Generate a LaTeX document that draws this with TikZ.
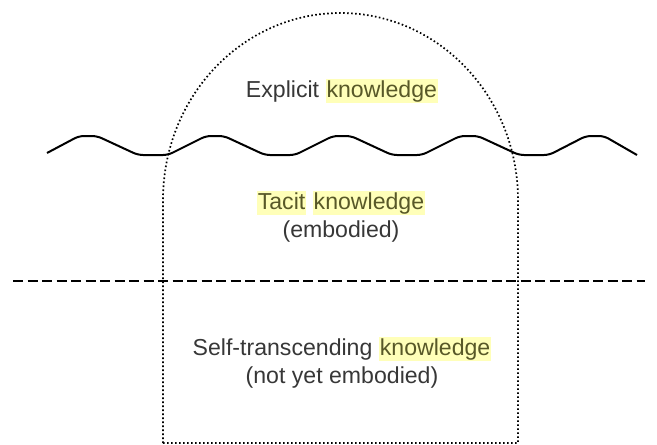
\documentclass[tikz,border=0pt]{standalone}
\usepackage{fontspec}
\setmainfont{Liberation Sans}
\definecolor{marker}{RGB}{255,255,185}
\definecolor{markedtext}{RGB}{88,88,40}
\definecolor{plaintext}{RGB}{55,55,55}
\newcommand{\marked}[1]{{\setlength{\fboxsep}{1pt}\colorbox{marker}{\color{markedtext}\vphantom{kg}#1}}}

\begin{document}
\begin{tikzpicture}[x=1pt, y=-1pt,
    label text/.style={anchor=base, inner sep=0pt, text=plaintext, font=\fontsize{23.1}{28}\selectfont},
    outline/.style={line width=1.7pt, dash pattern=on 1.6pt off 2.4pt},
    surface/.style={line width=2pt, line join=round, rounded corners=5pt},
    depth line/.style={line width=2.5pt, dash pattern=on 10pt off 4.5pt}]
  \useasboundingbox (0,0) rectangle (657,445);

  % iceberg outline
  \draw[outline] (163,443) -- (163,200)
    arc[start angle=180, end angle=360, x radius=177.5, y radius=187]
    -- (518,443) -- cycle;
  % water surface
  \draw[surface] (47,153) foreach \p in {88,215,342,469} {
      -- (\p-9,136) -- (\p+9,136) -- (\p+50,155) -- (\p+80,155) }
    -- (586,136) -- (604,136) -- (637,155);
  % limit of what is embodied
  \draw[depth line] (13,281) -- (645,281);

  \node[label text] (explicit) at (342,97) {Explicit \marked{knowledge}};
  \node[label text] (tacit) at (341,209) {\marked{Tacit} \marked{knowledge}};
  \node[label text] (tacitnote) at (341,237) {(embodied)};
  \node[label text] (transcend) at (342,355) {Self-transcending \marked{knowledge}};
  \node[label text] (transcendnote) at (342,383) {(not yet embodied)};
\end{tikzpicture}
\end{document}
